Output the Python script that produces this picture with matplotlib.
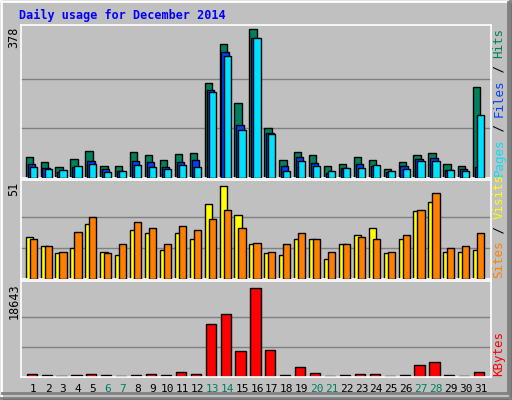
import matplotlib
matplotlib.use("Agg")
import matplotlib.pyplot as plt
import numpy as np
from matplotlib.patches import Rectangle
from matplotlib.lines import Line2D

days = list(range(1, 32))
weekend = [6, 7, 13, 14, 20, 21, 27, 28]
hits = [54,41,28,49,69,31,31,67,59,46,62,64,242,339,190,378,126,46,67,59,31,36,54,46,23,41,59,64,36,31,231]
files = [36,26,15,28,44,23,18,44,41,28,41,46,224,319,134,355,113,31,54,39,13,26,36,31,15,31,49,51,21,23,28]
pages = [28,23,21,31,36,15,18,33,28,23,33,28,219,309,121,355,111,18,44,31,18,26,26,33,18,23,44,44,21,18,159]
visits = [23,18,14,17,30,15,13,27,25,16,25,22,41,51,35,19,14,13,22,22,11,19,24,28,14,22,37,42,15,15,16]
sites = [22,18,15,26,34,14,19,31,28,19,29,27,33,38,28,20,15,19,25,22,15,19,23,22,15,24,38,47,17,18,25]
kbytes = [615,410,205,410,615,410,205,410,615,410,1024,615,11065,13114,5532,18643,5737,410,2049,820,205,410,615,615,205,410,2459,3073,410,205,1024]

W, H = 512, 400
fig = plt.figure(figsize=(W/100, H/100), dpi=100)
fig.patch.set_facecolor('#c0c0c0')

def fx(x): return x / W
def fy(y): return 1 - y / H

# bevel border
for (x0, y0, x1, y1, c) in [(1,1,510,1,'white'),(1,1,1,398,'white'),(510,1,510,398,'#808080'),(1,398,510,398,'#808080'),
                            (2,393,508,393,'#808080'),(508,2,508,393,'#808080')]:
    fig.add_artist(Line2D([fx(x0), fx(x1)], [fy(y0), fy(y1)], color=c, lw=2))
fig.add_artist(Rectangle((0, 0), 1, 1, fill=False, ec='black', lw=1.5, transform=fig.transFigure))

mono = 'DejaVu Sans Mono'
fig.text(fx(19), fy(15), 'Daily usage for December 2014', color='#0000ff', fontweight='bold',
         family=mono, fontsize=8.5, va='center', ha='left')

L, R = 21, 491
panels = [(24.5, 178), (180, 279), (281, 377)]
xlim = (0.18, 31.69)

def mkax(y0, y1):
    ax = fig.add_axes([fx(L), fy(y1), fx(R) - fx(L), (y1 - y0) / H])
    ax.set_facecolor('#c0c0c0')
    ax.set_xlim(*xlim)
    ax.set_xticks([]); ax.set_yticks([])
    for s in ax.spines.values():
        s.set_color('white'); s.set_linewidth(1.2)
    return ax

d = np.array(days)
ax1 = mkax(*panels[0])
ax1.set_ylim(0, 378 / 0.97)
for v in [126, 252]:
    ax1.axhline(v, color='#808080', lw=1, zorder=0)
ax1.bar(d - 0.265, hits, width=0.49, color='#00805c', ec='black', lw=1, zorder=2)
ax1.bar(d - 0.135, files, width=0.49, color='#0040ff', ec='black', lw=1, zorder=3)
ax1.bar(d + 0.0, pages, width=0.48, color='#00e0ff', ec='black', lw=1, zorder=4)

ax2 = mkax(*panels[1])
ax2.set_ylim(0, 51 / 0.94)
for v in [17, 34]:
    ax2.axhline(v, color='#808080', lw=1, zorder=0)
ax2.bar(d - 0.265, visits, width=0.49, color='#ffff00', ec='black', lw=1, zorder=2)
ax2.bar(d + 0.0, sites, width=0.48, color='#ff8000', ec='black', lw=1, zorder=3)

ax3 = mkax(*panels[2])
ax3.set_ylim(0, 18643 / 0.93)
for v in [18643/3, 2*18643/3]:
    ax3.axhline(v, color='#808080', lw=1, zorder=0)
ax3.bar(d - 0.1, kbytes, width=0.68, color='#ff0000', ec='black', lw=1, zorder=2)

# left max labels
for (txt, y) in [('378', 27), ('51', 182), ('18643', 283)]:
    fig.text(fx(14), fy(y), txt, rotation=90, va='top', ha='center', family=mono, fontsize=8.5, color='black')

# right legends (vertical, bottom->top)
def vlegend(parts, ybottom):
    cw = 7.4
    y = ybottom
    for txt, c in parts:
        fig.text(fx(499), fy(y), txt, rotation=90, va='bottom', ha='center', family=mono, fontsize=9, color=c)
        y -= cw * len(txt)

vlegend([('Pages', '#00e0ff'), (' / ', 'black'), ('Files', '#0040ff'), (' / ', 'black'), ('Hits', '#00805c')], 176)
vlegend([('Sites', '#ff8000'), (' / ', 'black'), ('Visits', '#ffff00')], 278)
vlegend([('KBytes', '#ff0000')], 376)

# x labels
for day in days:
    c = '#00805c' if day in weekend else 'black'
    xpix = L + (day - xlim[0]) / (xlim[1] - xlim[0]) * (R - L)
    fig.text(fx(xpix), fy(389), str(day), ha='center', va='center', family=mono, fontsize=8, color=c)

fig.savefig('out.png', dpi=100, facecolor=fig.get_facecolor())
